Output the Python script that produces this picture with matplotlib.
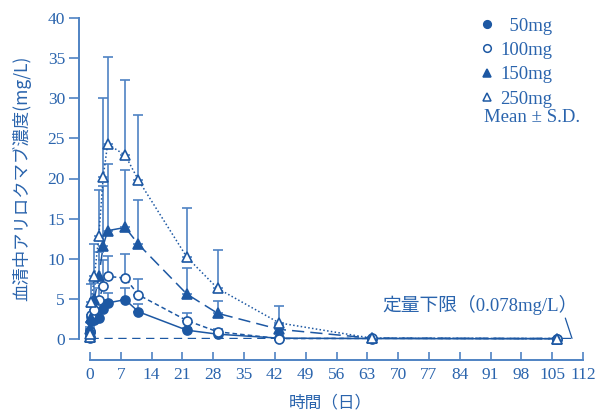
import matplotlib
matplotlib.use("Agg")
import matplotlib.pyplot as plt
from matplotlib.lines import Line2D
import numpy as np

# ---- data ----
times = [0, 0.04, 0.25, 1, 2, 3, 4, 8, 11, 22, 29, 43, 64, 106]

mean_50 = [0.1, 0.9, 2.2, 2.4, 2.6, 3.8, 4.5, 4.9, 3.4, 1.1, 0.6, 0.1, 0.05, 0.03]
sd_50 = [0.1, 0.4, 0.6, 0.6, 0.8, 1.0, 1.2, 1.4, 1.0, 0.3, 0.2, 0.05, 0.02, 0.01]

mean_100 = [0.2, 1.0, 3.0, 3.6, 4.8, 6.6, 7.8, 7.6, 5.5, 2.3, 0.9, 0.05, 0.08, 0.05]
sd_100 = [0.1, 0.5, 1.0, 1.2, 1.6, 3.3, 2.6, 3.0, 2.0, 1.0, 0.4, 0.05, 0.05, 0.02]

mean_150 = [0.2, 1.3, 2.6, 5.0, 7.8, 11.6, 13.5, 13.9, 11.8, 5.6, 3.2, 1.2, 0.1, 0.05]
sd_150 = [0.2, 0.8, 1.5, 2.0, 3.0, 7.5, 8.3, 7.2, 5.5, 3.3, 1.5, 0.5, 0.05, 0.02]

mean_250 = [0.3, 0.6, 4.6, 7.8, 12.8, 20.2, 24.3, 22.9, 19.8, 10.2, 6.3, 2.0, 0.1, 0.05]
sd_250 = [0.2, 0.5, 2.3, 4.0, 5.8, 9.8, 10.9, 9.4, 8.1, 6.1, 4.8, 2.1, 0.1, 0.05]

labels = ["  50mg", "100mg", "150mg", "250mg"]
lloq = 0.078
x_ticks = list(range(0, 113, 7))
y_ticks = list(range(0, 41, 5))

# ---- style ----
C = "#1d58a3"
CT = "#2a64ad"
CE = "#4f83c3"
SERIF = ["Liberation Serif", "Noto Sans CJK JP"]
JP = ["Noto Sans CJK JP", "Liberation Serif"]

fig = plt.figure(figsize=(6.04, 4.12), dpi=100)
ax = fig.add_axes([90/604, 1-339/412, (583-90)/604, (339-18)/412])

series = [
    (mean_50, sd_50, "o", C, "-", (None, None)),
    (mean_100, sd_100, "o", "white", "--", (3, 2)),
    (mean_150, sd_150, "^", C, "--", (8, 4)),
    (mean_250, sd_250, "^", "white", ":", (1, 1.5)),
]

handles = []
for (m, s, mk, fc, ls, dash), lab in zip(series, labels):
    m = np.array(m); s = np.array(s)
    ax.errorbar(times, m, yerr=[np.zeros_like(s), s], fmt="none",
                ecolor=CE, elinewidth=1.2, capsize=3.5, capthick=1.2,
                clip_on=False, zorder=2)
    line, = ax.plot(times, m, color=C, lw=1.1, linestyle=ls, zorder=3,
                    clip_on=False)
    if dash[0] is not None:
        line.set_dashes(dash)
    ax.plot(times, m, linestyle="none", marker=mk, markersize=6.5,
            markerfacecolor=fc, markeredgecolor=C, markeredgewidth=1.2,
            zorder=4, clip_on=False)
    handles.append(Line2D([], [], linestyle="none", marker=mk, markersize=5.5,
                          markerfacecolor=fc, markeredgecolor=C,
                          markeredgewidth=1.1, label=lab))

ax.axhline(lloq, xmin=0, xmax=0.985, color=C, lw=1.0, dashes=(6, 4), zorder=1)

ax.set_xlim(0, 112)
ax.set_ylim(0, 40)
ax.set_xticks(x_ticks)
ax.set_yticks(y_ticks)

for sp in ["top", "right"]:
    ax.spines[sp].set_visible(False)
ax.spines["left"].set_position(("outward", 8))
ax.spines["bottom"].set_position(("outward", 15))
for sp in ["left", "bottom"]:
    ax.spines[sp].set_color(CE)
    ax.spines[sp].set_linewidth(1.4)

ax.tick_params(axis="x", direction="in", length=6, width=1.2, color=CE,
               labelcolor=CT, pad=5)
ax.tick_params(axis="y", direction="out", length=7, width=1.2, color=CE,
               labelcolor=CT, pad=3)
for lbl in ax.get_xticklabels() + ax.get_yticklabels():
    lbl.set_family(SERIF)
    lbl.set_fontsize(12.5)

ax.set_xlabel("時間（日）", family=JP, fontsize=12, color=CT, va="center")
ax.xaxis.set_label_coords((330-90)/493, (339-403)/321)
ax.set_ylabel("血清中アリロクマブ濃度(mg/L)", family=JP, fontsize=12.5,
              color=CT, va="center")
ax.yaxis.set_label_coords((22-90)/493, (339-178)/321)

leg = ax.legend(handles=handles, loc="upper left",
                bbox_to_anchor=((472-90)/493, 1.025), frameon=False,
                handlelength=0.8, handletextpad=0.3, labelspacing=0.39,
                borderaxespad=0, prop={"family": "Liberation Serif", "size": 13.5})
for t in leg.get_texts():
    t.set_color(CT)

ax.text((484-90)/493, 1-(118-18)/321, "Mean ± S.D.", transform=ax.transAxes,
        family=SERIF, fontsize=13.5, color=CT, va="center", ha="left")

ax.annotate("定量下限（0.078mg/L）", xy=(109.5, lloq), xytext=(66.5, 4.2),
            family=SERIF, fontsize=13.5, color=CT, va="center", ha="left",
            arrowprops=dict(arrowstyle="-", color=C, lw=0.9,
                            shrinkA=0, shrinkB=0,
                            relpos=(0.93, 0.0)),
            annotation_clip=False)

fig.savefig("out.png", dpi=100)
